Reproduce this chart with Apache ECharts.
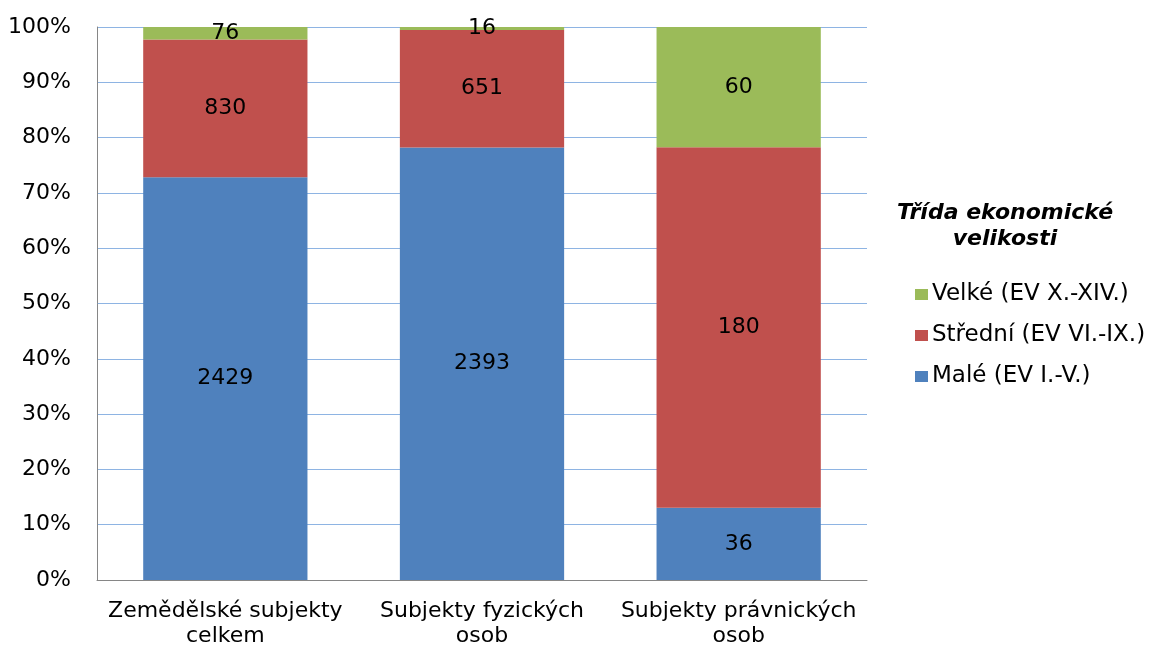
<!DOCTYPE html>
<html>
<head>
<meta charset="utf-8">
<script src="https://cdn.jsdelivr.net/npm/echarts@6/dist/echarts.min.js"></script>
<style>
html,body{margin:0;padding:0;background:#fff;}
#c{width:1155px;height:646px;}
</style>
</head>
<body>
<div id="c"></div>
<script>
const categories = ['Zemědělské subjekty\ncelkem', 'Subjekty fyzických\nosob', 'Subjekty právnických\nosob'];
const male = [2429, 2393, 36];
const stredni = [830, 651, 180];
const velke = [76, 16, 60];
const seriesNames = ['Malé (EV I.-V.)', 'Střední (EV VI.-IX.)', 'Velké (EV X.-XIV.)'];
const yTicks = [0, 10, 20, 30, 40, 50, 60, 70, 80, 90, 100];

const FONT = '"DejaVu Sans", sans-serif';
const totals = categories.map((_, i) => male[i] + stredni[i] + velke[i]);
const toPct = arr => arr.map((v, i) => ({ value: v / totals[i] * 100, raw: v }));
const colors = ['#4F81BD', '#C0504D', '#9BBB59'];
const raws = [male, stredni, velke];

const chart = echarts.init(document.getElementById('c'));
chart.setOption({
  animation: false,
  backgroundColor: '#fff',
  textStyle: { fontFamily: FONT },
  grid: { left: 97, right: 288, top: 27, bottom: 66, containLabel: false, outerBoundsMode: 'none' },
  xAxis: {
    type: 'category',
    data: categories,
    axisLine: { lineStyle: { color: '#868686', width: 1 } },
    axisTick: { show: false },
    axisLabel: { color: '#000', fontSize: 22, fontFamily: FONT, lineHeight: 25, margin: 19, interval: 0 }
  },
  yAxis: {
    type: 'value',
    min: yTicks[0], max: yTicks[yTicks.length - 1], interval: 10,
    axisLine: { show: true, lineStyle: { color: '#868686', width: 1 } },
    axisTick: { show: false },
    splitLine: { lineStyle: { color: '#8EB4E3', width: 1 } },
    axisLabel: { color: '#000', fontSize: 22, fontFamily: FONT, margin: 26, formatter: '{value}%' }
  },
  legend: {
    orient: 'vertical',
    left: 910, top: 277,
    data: [seriesNames[2], seriesNames[1], seriesNames[0]],
    itemWidth: 13, itemHeight: 11, itemGap: 16,
    icon: 'rect',
    textStyle: { color: '#000', fontSize: 23, fontFamily: FONT, lineHeight: 25, padding: [0, 0, 0, -1] }
  },
  graphic: [{
    type: 'text', x: 1005, y: 200,
    style: {
      text: 'Třída ekonomické\nvelikosti',
      fill: '#000', font: 'italic bold 22px "DejaVu Sans", sans-serif',
      align: 'center', lineHeight: 26
    }
  }],
  series: raws.map((arr, k) => ({
    name: seriesNames[k],
    type: 'bar',
    stack: 'total',
    barWidth: '64%',
    data: toPct(arr),
    itemStyle: { color: colors[k] },
    label: {
      show: true, position: 'inside', color: '#000', fontSize: 22, fontFamily: FONT,
      formatter: p => String(p.data.raw)
    }
  }))
});
</script>
</body>
</html>
